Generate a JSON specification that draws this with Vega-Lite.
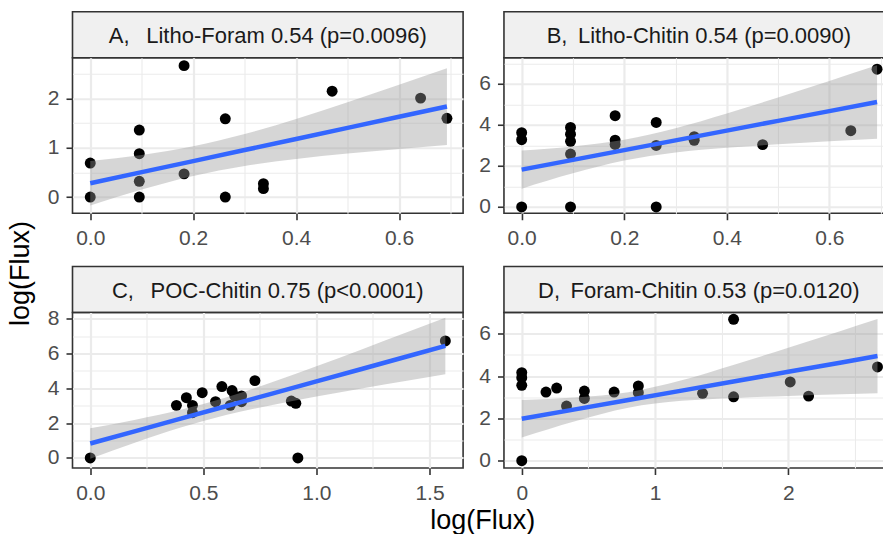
{
  "$schema": "https://vega.github.io/schema/vega-lite/v6.json",
  "background": "white",
  "padding": {"left": 7.2, "top": 10.75, "right": 0, "bottom": 0},
  "title": {"text": "log(Flux)", "orient": "bottom", "anchor": "middle", "font": "Liberation Sans", "fontSize": 27, "fontWeight": "normal", "color": "#000000", "offset": -5.5, "dx": 35.4},
  "datasets": {
    "A_pts": [{"x":0,"y":0.69},{"x":0,"y":0},{"x":0.0953,"y":1.36},{"x":0.0953,"y":0.88},{"x":0.0953,"y":0.32},{"x":0.0953,"y":0},{"x":0.1823,"y":2.67},{"x":0.1823,"y":0.47},{"x":0.2624,"y":1.59},{"x":0.2624,"y":0},{"x":0.3365,"y":0.27},{"x":0.3365,"y":0.17},{"x":0.47,"y":2.15},{"x":0.6419,"y":2.01},{"x":0.6931,"y":1.6}],
    "A_fit": [{"x":0,"fit":0.28,"lo":-0.17,"hi":0.73},{"x":0.1,"fit":0.505,"lo":0.154,"hi":0.856},{"x":0.2,"fit":0.73,"lo":0.429,"hi":1.032},{"x":0.3,"fit":0.955,"lo":0.631,"hi":1.279},{"x":0.4,"fit":1.18,"lo":0.774,"hi":1.586},{"x":0.5,"fit":1.405,"lo":0.884,"hi":1.926},{"x":0.6,"fit":1.63,"lo":0.978,"hi":2.282},{"x":0.6931,"fit":1.839,"lo":1.059,"hi":2.619}],
    "B_pts": [{"x":0,"y":3.62},{"x":0,"y":3.28},{"x":0,"y":0},{"x":0.0953,"y":3.88},{"x":0.0953,"y":3.55},{"x":0.0953,"y":3.2},{"x":0.0953,"y":2.58},{"x":0.0953,"y":0},{"x":0.1823,"y":4.45},{"x":0.1823,"y":3.26},{"x":0.1823,"y":3.05},{"x":0.2624,"y":4.12},{"x":0.2624,"y":3.0},{"x":0.2624,"y":0},{"x":0.3365,"y":3.43},{"x":0.3365,"y":3.25},{"x":0.47,"y":3.04},{"x":0.6419,"y":3.72},{"x":0.6931,"y":6.72}],
    "B_fit": [{"x":0,"fit":1.82,"lo":0.891,"hi":2.749},{"x":0.1,"fit":2.296,"lo":1.638,"hi":2.954},{"x":0.2,"fit":2.772,"lo":2.261,"hi":3.283},{"x":0.3,"fit":3.248,"lo":2.657,"hi":3.839},{"x":0.4,"fit":3.724,"lo":2.889,"hi":4.559},{"x":0.5,"fit":4.2,"lo":3.058,"hi":5.342},{"x":0.6,"fit":4.676,"lo":3.203,"hi":6.149},{"x":0.6931,"fit":5.119,"lo":3.328,"hi":6.91}],
    "C_pts": [{"x":0,"y":0},{"x":0.918,"y":0},{"x":0.381,"y":3.02},{"x":0.425,"y":3.46},{"x":0.452,"y":3.02},{"x":0.452,"y":2.6},{"x":0.495,"y":3.75},{"x":0.554,"y":3.23},{"x":0.582,"y":4.1},{"x":0.619,"y":3.02},{"x":0.627,"y":3.87},{"x":0.639,"y":3.56},{"x":0.669,"y":3.56},{"x":0.669,"y":3.23},{"x":0.728,"y":4.44},{"x":0.889,"y":3.27},{"x":0.909,"y":3.14},{"x":1.57,"y":6.72}],
    "C_fit": [{"x":0,"fit":0.83,"lo":-0.04,"hi":1.7},{"x":0.2,"fit":1.543,"lo":0.892,"hi":2.194},{"x":0.4,"fit":2.257,"lo":1.751,"hi":2.763},{"x":0.6,"fit":2.97,"lo":2.464,"hi":3.476},{"x":0.8,"fit":3.684,"lo":3.033,"hi":4.335},{"x":1.0,"fit":4.397,"lo":3.527,"hi":5.267},{"x":1.2,"fit":5.11,"lo":3.989,"hi":6.231},{"x":1.4,"fit":5.824,"lo":4.436,"hi":7.212},{"x":1.57,"fit":6.43,"lo":4.81,"hi":8.05}],
    "D_pts": [{"x":0,"y":0},{"x":0,"y":4.16},{"x":0,"y":3.92},{"x":0,"y":3.56},{"x":0.182,"y":3.24},{"x":0.262,"y":3.43},{"x":0.336,"y":2.58},{"x":0.47,"y":3.29},{"x":0.47,"y":2.94},{"x":0.693,"y":3.24},{"x":0.875,"y":3.53},{"x":0.875,"y":3.21},{"x":1.357,"y":3.18},{"x":1.59,"y":6.68},{"x":1.59,"y":3.02},{"x":2.015,"y":3.72},{"x":2.153,"y":3.05},{"x":2.67,"y":4.43}],
    "D_fit": [{"x":0,"fit":1.98,"lo":1.09,"hi":2.87},{"x":0.4,"fit":2.424,"lo":1.859,"hi":2.989},{"x":0.8,"fit":2.867,"lo":2.502,"hi":3.232},{"x":1.2,"fit":3.311,"lo":2.828,"hi":3.794},{"x":1.6,"fit":3.754,"lo":2.966,"hi":4.542},{"x":2.0,"fit":4.198,"lo":3.061,"hi":5.335},{"x":2.4,"fit":4.642,"lo":3.141,"hi":6.143},{"x":2.67,"fit":4.941,"lo":3.191,"hi":6.691}]
  },
  "spacing": 11.3,
  "hconcat": [
    {
      "width": 28, "height": 501.5,
      "view": {"stroke": null},
      "data": {"values": [{"t": "log(Flux)"}]},
      "mark": {"type": "text", "angle": 270, "fontSize": 27, "font": "Liberation Sans", "color": "#000000", "dx": -11},
      "encoding": {"text": {"field": "t"}}
    },
    {
      "spacing": 15.75,
      "vconcat": [
        {
          "spacing": 13.47,
          "hconcat": [
            {
              "spacing": 0, "bounds": "flush",
              "vconcat": [
                {"width": 390.6, "height": 46, "view": {"fill": "#F0F0F0", "stroke": "#333333", "strokeWidth": 1.6},
                 "data": {"values": [{"label": "A,\u00a0\u00a0\u2009Litho-Foram 0.54 (p=0.0096)"}]},
                 "mark": {"type": "text", "fontSize": 22, "font": "Liberation Sans", "color": "#1A1A1A", "dy": 1.5},
                 "encoding": {"text": {"field": "label"}}},
                {"width": 390.6, "height": 155.5,
                 "encoding": {"x": {"field": "x", "type": "quantitative", "title": null, "scale": {"domain": [-0.0345, 0.7245], "nice": false, "zero": false},
                   "axis": {"values": [0,0.1,0.2,0.3,0.4,0.5,0.6,0.7], "tickCount": 50, "labelOverlap": false, "labelExpr": "round(datum.value*10)%2==1 ? '' : format(datum.value,'.1f')", "tickOpacity": {"condition": {"test": "round(datum.value*10)%2==1", "value": 0}, "value": 1}, "gridWidth": {"condition": {"test": "round(datum.value*10)%2==1", "value": 1.1}, "value": 2.2}}}},
                 "layer": [
                   {"data": {"name": "A_pts"}, "mark": {"type": "point", "filled": true, "size": 120, "color": "#000000", "opacity": 1},
                    "encoding": {"y": {"field": "y", "type": "quantitative", "title": null, "scale": {"domain": [-0.33, 2.83], "nice": false, "zero": false},
                      "axis": {"values": [0,0.5,1,1.5,2,2.5], "tickCount": 50, "labelOverlap": false, "labelExpr": "round(datum.value*2)%2==1 ? '' : format(datum.value,'d')", "tickOpacity": {"condition": {"test": "round(datum.value*2)%2==1", "value": 0}, "value": 1}, "gridWidth": {"condition": {"test": "round(datum.value*2)%2==1", "value": 1.1}, "value": 2.2}}}}},
                   {"data": {"name": "A_fit"}, "mark": {"type": "area", "color": "#999999", "opacity": 0.4, "interpolate": "monotone"},
                    "encoding": {"y": {"field": "lo", "type": "quantitative", "title": null}, "y2": {"field": "hi"}}},
                   {"data": {"name": "A_fit"}, "mark": {"type": "line", "color": "#3366FF", "strokeWidth": 4.5},
                    "encoding": {"y": {"field": "fit", "type": "quantitative", "title": null}}}
                 ]}
              ]
            },
            {
              "spacing": 0, "bounds": "flush",
              "vconcat": [
                {"width": 381, "height": 46, "view": {"fill": "#F0F0F0", "stroke": "#333333", "strokeWidth": 1.6},
                 "data": {"values": [{"label": "B,\u00a0\u2009Litho-Chitin 0.54 (p=0.0090)"}]},
                 "mark": {"type": "text", "fontSize": 22, "font": "Liberation Sans", "color": "#1A1A1A", "dy": 1.5, "dx": 4.4},
                 "encoding": {"text": {"field": "label"}}},
                {"width": 381, "height": 155.5,
                 "encoding": {"x": {"field": "x", "type": "quantitative", "title": null, "scale": {"domain": [-0.0345, 0.7085], "nice": false, "zero": false},
                   "axis": {"values": [0,0.1,0.2,0.3,0.4,0.5,0.6,0.7], "tickCount": 50, "labelOverlap": false, "labelExpr": "round(datum.value*10)%2==1 ? '' : format(datum.value,'.1f')", "tickOpacity": {"condition": {"test": "round(datum.value*10)%2==1", "value": 0}, "value": 1}, "gridWidth": {"condition": {"test": "round(datum.value*10)%2==1", "value": 1.1}, "value": 2.2}}}},
                 "layer": [
                   {"data": {"name": "B_pts"}, "mark": {"type": "point", "filled": true, "size": 120, "color": "#000000", "opacity": 1},
                    "encoding": {"y": {"field": "y", "type": "quantitative", "title": null, "scale": {"domain": [-0.31, 7.28], "nice": false, "zero": false},
                      "axis": {"values": [0,1,2,3,4,5,6,7], "tickCount": 50, "labelOverlap": false, "labelExpr": "datum.value%2==1 ? '' : format(datum.value,'d')", "tickOpacity": {"condition": {"test": "datum.value%2==1", "value": 0}, "value": 1}, "gridWidth": {"condition": {"test": "datum.value%2==1", "value": 1.1}, "value": 2.2}}}}},
                   {"data": {"name": "B_fit"}, "mark": {"type": "area", "color": "#999999", "opacity": 0.4, "interpolate": "monotone"},
                    "encoding": {"y": {"field": "lo", "type": "quantitative", "title": null}, "y2": {"field": "hi"}}},
                   {"data": {"name": "B_fit"}, "mark": {"type": "line", "color": "#3366FF", "strokeWidth": 4.5},
                    "encoding": {"y": {"field": "fit", "type": "quantitative", "title": null}}}
                 ]}
              ]
            }
          ]
        },
        {
          "spacing": 13.47,
          "hconcat": [
            {
              "spacing": 0, "bounds": "flush",
              "vconcat": [
                {"width": 390.6, "height": 46, "view": {"fill": "#F0F0F0", "stroke": "#333333", "strokeWidth": 1.6},
                 "data": {"values": [{"label": "C,\u00a0\u00a0\u2009POC-Chitin 0.75 (p<0.0001)"}]},
                 "mark": {"type": "text", "fontSize": 22, "font": "Liberation Sans", "color": "#1A1A1A", "dy": 1.5},
                 "encoding": {"text": {"field": "label"}}},
                {"width": 390.6, "height": 155.5,
                 "encoding": {"x": {"field": "x", "type": "quantitative", "title": null, "scale": {"domain": [-0.0785, 1.6485], "nice": false, "zero": false},
                   "axis": {"values": [0,0.25,0.5,0.75,1,1.25,1.5], "tickCount": 50, "labelOverlap": false, "labelExpr": "round(datum.value*4)%2==1 ? '' : format(datum.value,'.1f')", "tickOpacity": {"condition": {"test": "round(datum.value*4)%2==1", "value": 0}, "value": 1}, "gridWidth": {"condition": {"test": "round(datum.value*4)%2==1", "value": 1.1}, "value": 2.2}}}},
                 "layer": [
                   {"data": {"name": "C_pts"}, "mark": {"type": "point", "filled": true, "size": 120, "color": "#000000", "opacity": 1},
                    "encoding": {"y": {"field": "y", "type": "quantitative", "title": null, "scale": {"domain": [-0.574, 8.35], "nice": false, "zero": false},
                      "axis": {"values": [0,1,2,3,4,5,6,7,8], "tickCount": 50, "labelOverlap": false, "labelExpr": "datum.value%2==1 ? '' : format(datum.value,'d')", "tickOpacity": {"condition": {"test": "datum.value%2==1", "value": 0}, "value": 1}, "gridWidth": {"condition": {"test": "datum.value%2==1", "value": 1.1}, "value": 2.2}}}}},
                   {"data": {"name": "C_fit"}, "mark": {"type": "area", "color": "#999999", "opacity": 0.4, "interpolate": "monotone"},
                    "encoding": {"y": {"field": "lo", "type": "quantitative", "title": null}, "y2": {"field": "hi"}}},
                   {"data": {"name": "C_fit"}, "mark": {"type": "line", "color": "#3366FF", "strokeWidth": 4.5},
                    "encoding": {"y": {"field": "fit", "type": "quantitative", "title": null}}}
                 ]}
              ]
            },
            {
              "spacing": 0, "bounds": "flush",
              "vconcat": [
                {"width": 381, "height": 46, "view": {"fill": "#F0F0F0", "stroke": "#333333", "strokeWidth": 1.6},
                 "data": {"values": [{"label": "D,\u00a0\u2009Foram-Chitin 0.53 (p=0.0120)"}]},
                 "mark": {"type": "text", "fontSize": 22, "font": "Liberation Sans", "color": "#1A1A1A", "dy": 1.5, "dx": 4.4},
                 "encoding": {"text": {"field": "label"}}},
                {"width": 381, "height": 155.5,
                 "encoding": {"x": {"field": "x", "type": "quantitative", "title": null, "scale": {"domain": [-0.1335, 2.726], "nice": false, "zero": false},
                   "axis": {"values": [0,0.5,1,1.5,2,2.5], "tickCount": 50, "labelOverlap": false, "labelExpr": "round(datum.value*2)%2==1 ? '' : format(datum.value,'d')", "tickOpacity": {"condition": {"test": "round(datum.value*2)%2==1", "value": 0}, "value": 1}, "gridWidth": {"condition": {"test": "round(datum.value*2)%2==1", "value": 1.1}, "value": 2.2}}}},
                 "layer": [
                   {"data": {"name": "D_pts"}, "mark": {"type": "point", "filled": true, "size": 120, "color": "#000000", "opacity": 1},
                    "encoding": {"y": {"field": "y", "type": "quantitative", "title": null, "scale": {"domain": [-0.345, 7.0], "nice": false, "zero": false},
                      "axis": {"values": [0,1,2,3,4,5,6], "tickCount": 50, "labelOverlap": false, "labelExpr": "datum.value%2==1 ? '' : format(datum.value,'d')", "tickOpacity": {"condition": {"test": "datum.value%2==1", "value": 0}, "value": 1}, "gridWidth": {"condition": {"test": "datum.value%2==1", "value": 1.1}, "value": 2.2}}}}},
                   {"data": {"name": "D_fit"}, "mark": {"type": "area", "color": "#999999", "opacity": 0.4, "interpolate": "monotone"},
                    "encoding": {"y": {"field": "lo", "type": "quantitative", "title": null}, "y2": {"field": "hi"}}},
                   {"data": {"name": "D_fit"}, "mark": {"type": "line", "color": "#3366FF", "strokeWidth": 4.5},
                    "encoding": {"y": {"field": "fit", "type": "quantitative", "title": null}}}
                 ]}
              ]
            }
          ]
        }
      ]
    }
  ],
  "config": {
    "font": "Liberation Sans",
    "view": {"stroke": "#333333", "strokeWidth": 1.6},
    "axis": {"domain": false, "tickColor": "#333333", "tickWidth": 1.6, "tickSize": 6.5, "labelFont": "Liberation Sans", "labelFontSize": 21, "labelColor": "#4D4D4D", "grid": true, "gridColor": "#EBEBEB", "labelOverlap": false, "labelFlush": false, "labelBound": false},
    "axisX": {"labelPadding": 8},
    "axisY": {"labelPadding": 7}
  }
}
